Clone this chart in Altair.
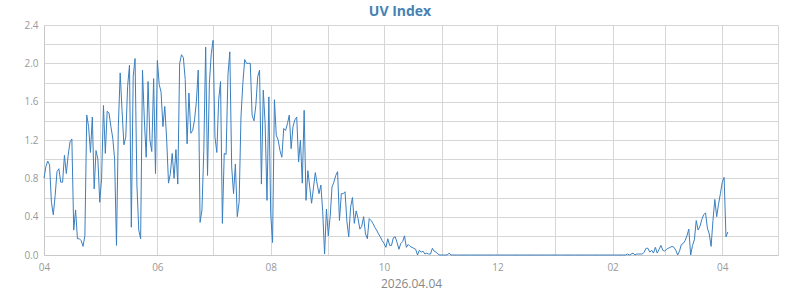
import altair as alt
import pandas as pd

# Daily UV index values, 2025-04-01 .. 2026-04-04
apr_2025 = [0.80, 0.92, 0.98, 0.94, 0.55, 0.42, 0.62, 0.87, 0.90, 0.76,
            0.76, 1.04, 0.85, 1.04, 1.18, 1.21, 0.26, 0.47, 0.17, 0.17,
            0.15, 0.09, 0.20, 1.46, 1.34, 1.07, 1.44, 0.69, 1.09, 1.00]
may_2025 = [0.55, 0.80, 1.56, 1.06, 1.50, 1.48, 1.34, 1.22, 1.00, 0.10,
            1.34, 1.90, 1.51, 1.15, 1.23, 1.76, 1.98, 0.29, 1.86, 2.05,
            0.73, 0.26, 0.17, 1.93, 1.41, 1.02, 1.81, 1.20, 1.08, 1.84,
            0.85]
jun_2025 = [2.03, 1.78, 1.70, 1.34, 1.55, 1.21, 0.75, 0.85, 1.06, 0.80,
            1.10, 0.74, 2.00, 2.09, 2.06, 1.83, 1.16, 1.69, 1.27, 1.30,
            1.41, 1.60, 1.93, 0.34, 0.47, 1.09, 2.17, 0.83, 1.79, 2.10]
jul_2025 = [2.24, 1.23, 1.07, 1.62, 1.81, 0.33, 1.06, 1.05, 1.88, 2.12,
            0.92, 0.64, 0.95, 0.40, 0.55, 1.44, 1.79, 2.04, 2.00, 2.00,
            2.00, 1.46, 1.40, 1.56, 1.86, 1.93, 0.74, 1.72, 1.37, 0.57,
            1.65]
aug_2025 = [0.43, 0.13, 1.62, 1.25, 1.20, 1.09, 1.02, 1.32, 1.30, 1.37,
            1.46, 1.11, 1.34, 1.41, 1.44, 0.97, 1.20, 0.75, 1.51, 0.57,
            0.88, 0.71, 0.54, 0.70, 0.86, 0.74, 0.64, 0.73, 0.45, 0.01,
            0.48]
sep_2025 = [0.20, 0.40, 0.71, 0.76, 0.83, 0.87, 0.36, 0.64, 0.64, 0.66,
            0.35, 0.19, 0.50, 0.60, 0.33, 0.46, 0.38, 0.27, 0.30, 0.40,
            0.22, 0.17, 0.38, 0.36, 0.33, 0.29, 0.26, 0.22, 0.19, 0.15]
oct_2025 = [0.12, 0.08, 0.17, 0.10, 0.10, 0.18, 0.19, 0.13, 0.06, 0.12,
            0.14, 0.20, 0.08, 0.11, 0.09, 0.08, 0.07, 0.06, 0.00, 0.05,
            0.03, 0.04, 0.01, 0.02, 0.01, 0.01, 0.07, 0.04, 0.03, 0.01,
            0.00]
nov_2025 = [0.00, 0.00, 0.00, 0.00, 0.02, 0.00, 0.00, 0.00, 0.00, 0.00,
            0.00, 0.00, 0.00, 0.00, 0.00, 0.00, 0.00, 0.00, 0.00, 0.00,
            0.00, 0.00, 0.00, 0.00, 0.00, 0.00, 0.00, 0.00, 0.00, 0.00]
dec_2025 = [0.00, 0.00, 0.00, 0.00, 0.00, 0.00, 0.00, 0.00, 0.00, 0.00,
            0.00, 0.00, 0.00, 0.00, 0.00, 0.00, 0.00, 0.00, 0.00, 0.00,
            0.00, 0.00, 0.00, 0.00, 0.00, 0.00, 0.00, 0.00, 0.00, 0.00,
            0.00]
jan_2026 = [0.00, 0.00, 0.00, 0.00, 0.00, 0.00, 0.00, 0.00, 0.00, 0.00,
            0.00, 0.00, 0.00, 0.00, 0.00, 0.00, 0.00, 0.00, 0.00, 0.00,
            0.00, 0.00, 0.00, 0.00, 0.00, 0.00, 0.00, 0.00, 0.00, 0.00,
            0.00]
feb_2026 = [0.00, 0.00, 0.00, 0.00, 0.00, 0.00, 0.00, 0.00, 0.01, 0.00,
            0.01, 0.02, 0.00, 0.01, 0.01, 0.01, 0.01, 0.03, 0.07, 0.07,
            0.03, 0.05, 0.02, 0.08, 0.02, 0.06, 0.10, 0.05]
mar_2026 = [0.04, 0.06, 0.07, 0.08, 0.09, 0.08, 0.05, 0.00, 0.04, 0.11,
            0.12, 0.15, 0.20, 0.27, 0.00, 0.10, 0.16, 0.36, 0.26, 0.30,
            0.37, 0.42, 0.44, 0.28, 0.22, 0.09, 0.36, 0.58, 0.40, 0.53,
            0.64]
apr_2026 = [0.76, 0.81, 0.19, 0.24]

y_ticks = [0.0, 0.2, 0.4, 0.6, 0.8, 1.0, 1.2, 1.4, 1.6, 1.8, 2.0, 2.2, 2.4]

values = (apr_2025 + may_2025 + jun_2025 + jul_2025 + aug_2025 + sep_2025 +
          oct_2025 + nov_2025 + dec_2025 + jan_2026 + feb_2026 + mar_2026 +
          apr_2026)
dates = pd.date_range("2025-04-01", periods=len(values), freq="D")
df = pd.DataFrame({"date": dates.strftime("%Y-%m-%dT00:00:00"), "uv": values})

FONT = "Open Sans"
GRID = "#d6d6d6"

chart = (
    alt.Chart(df)
    .mark_line(color="#3a7fc0", strokeWidth=1)
    .encode(
        x=alt.X(
            "date:T",
            scale=alt.Scale(
                domain=[alt.DateTime(year=2025, month=4, date=1),
                        alt.DateTime(year=2026, month=5, date=1)],
                nice=False,
            ),
            axis=alt.Axis(
                title="2026.04.04",
                tickCount={"interval": "month", "step": 1},
                labelExpr="month(datum.value) % 2 == 1 ? timeFormat(datum.value, '%m') : ''",
                ticks=False,
                grid=True,
                gridColor=GRID,
                domainColor="#c8c8c8",
                labelColor="#999999",
                labelFont=FONT,
                labelFontSize=10,
                labelPadding=7,
                labelFlush=False,
                labelOverlap=False,
                titleColor="#888888",
                titleFont=FONT,
                titleFontSize=12,
                titleFontWeight="normal",
                titlePadding=6,
            ),
        ),
        y=alt.Y(
            "uv:Q",
            scale=alt.Scale(domain=[0, 2.4], nice=False),
            axis=alt.Axis(
                title=None,
                values=y_ticks,
                labelExpr="round(datum.value * 10) % 4 == 0 ? format(datum.value, '.1f') : ''",
                ticks=False,
                grid=True,
                gridColor=GRID,
                domainColor="#c8c8c8",
                labelColor="#999999",
                labelFont=FONT,
                labelFontSize=10,
                labelPadding=6,
                labelFlush=False,
                labelOverlap=False,
            ),
        ),
    )
    .properties(
        width=734,
        height=230,
        autosize=alt.AutoSizeParams(type="none"),
        padding={"left": 44, "top": 25, "right": 22, "bottom": 35},
        title=alt.TitleParams(
            "UV Index",
            font=FONT,
            fontSize=14,
            fontWeight="bold",
            color="#4682b4",
            anchor="middle",
            dx=-11,
            dy=7,
            offset=8,
        ),
    )
    .configure_view(stroke=None)
)

chart.save("out.html", embed_options={"renderer": "svg", "actions": False})
